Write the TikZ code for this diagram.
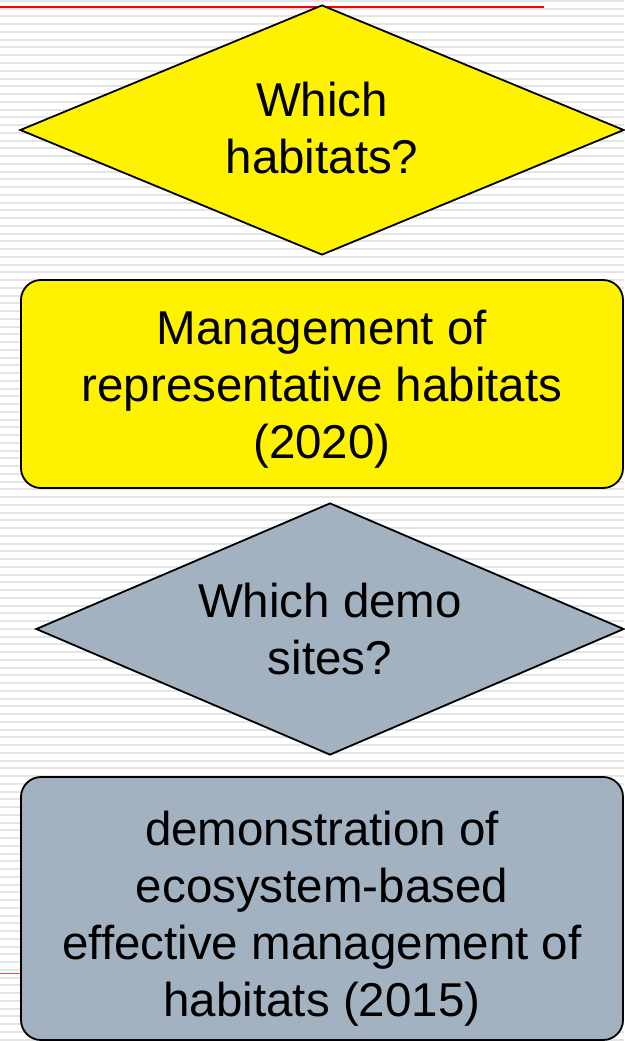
\documentclass[tikz,border=0pt]{standalone}
\usepackage{fontspec}
\setmainfont{Liberation Sans}
\usetikzlibrary{shapes.geometric, positioning}
\definecolor{slate}{HTML}{A3B2C1}
\definecolor{stripe}{HTML}{E4E4E4}

\begin{document}
\begin{tikzpicture}[x=1pt,y=-1pt,node distance=250pt,on grid,
    outline/.style={draw=black,line width=1.8pt,inner sep=0pt},
    question/.style={outline,diamond,minimum width=#1,minimum height=250pt},
    goal/.style={outline,rectangle,rounded corners=20pt,minimum width=602pt},
    words/.style={align=center,inner sep=0pt,font=\fontsize{47.5}{57}\selectfont}]
  \useasboundingbox (0,0) rectangle (624,1041);
  % lined paper
  \fill[white] (0,0) rectangle (624,1041);
  \foreach \y in {0,7.75,...,1041}
    \fill[stripe] (0,\y) rectangle (624,\y+2);
  \draw[red,line width=2pt] (0,7) -- (544,7);
  \draw[red!70,line width=1pt] (0,973) -- (30,973);

  \node[question=604pt,fill=yellow] (q1) at (322,130) {};
  \node[goal,fill=yellow,minimum height=208pt] (g1) [below=254pt of q1] {};
  \node[question=588pt,fill=slate,minimum height=252pt] (q2) [below=245pt of g1,xshift=8pt] {};
  \node[goal,fill=slate,minimum height=263pt] (g2) [below=279.5pt of q2,xshift=-8pt] {};

  \node[words,yshift=2pt] (q1t) at (q1.center) {Which\\habitats?};
  \node[words,yshift=-5pt] (g1t) at (g1.center) {Management of\\representative habitats\\(2020)};
  \node[words] (q2t) at (q2.center) {Which demo\\sites?};
  \node[words,yshift=-10pt] (g2t) at (g2.center) {demonstration of\\ecosystem-based\\effective management of\\habitats (2015)};
\end{tikzpicture}
\end{document}
